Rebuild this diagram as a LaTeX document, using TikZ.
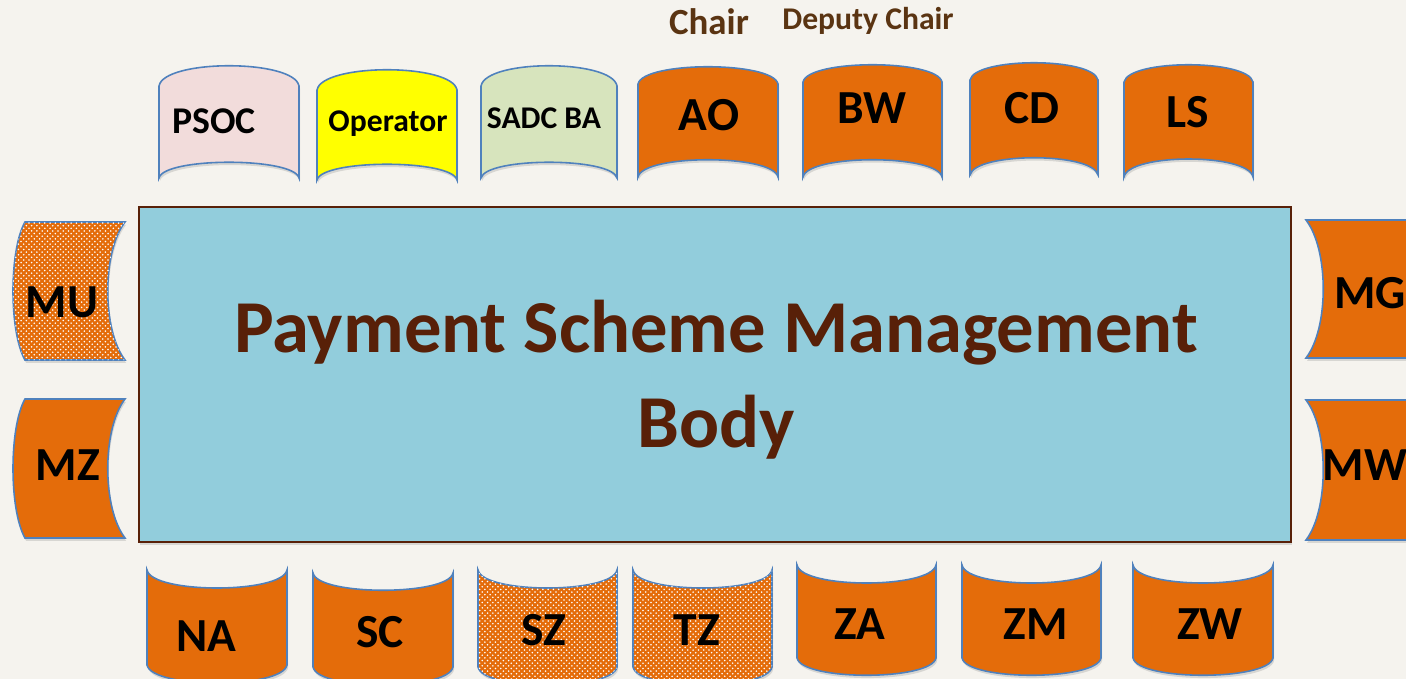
\documentclass[tikz,border=0pt]{standalone}
\usepackage{fontspec}
\setmainfont{Carlito}
\usetikzlibrary{patterns,shadows}
\definecolor{bgcol}{HTML}{F5F3EE}
\definecolor{seatline}{HTML}{4F81BD}
\definecolor{seatorange}{HTML}{E46C0A}
\definecolor{bodyfill}{HTML}{92CDDC}
\definecolor{bodybrown}{HTML}{582008}
\definecolor{rolebrown}{HTML}{5A3412}
\definecolor{psocpink}{HTML}{F2DCDB}
\definecolor{opyellow}{HTML}{FFFF00}
\definecolor{sadcgreen}{HTML}{D7E4BD}

\begin{document}
\begin{tikzpicture}[x=0.02cm,y=-0.02cm]
    \tikzstyle{every node}+=[inner sep=0pt, font=\bfseries]
    \tikzstyle{seat}=[draw=seatline, line width=0.9pt, drop shadow={shadow xshift=0.6pt, shadow yshift=-1.6pt, opacity=0.25}]
    \tikzstyle{member}=[seat, fill=seatorange]
    \tikzstyle{absent}=[seat, fill=seatorange, postaction={pattern=crosshatch dots, pattern color=white}]
    \tikzstyle{big}=[font=\fontsize{27}{31}\selectfont\bfseries]
    \tikzstyle{mid}=[font=\fontsize{20}{24}\selectfont\bfseries]
    \tikzstyle{small}=[font=\fontsize{18}{22}\selectfont\bfseries]
    \useasboundingbox (0,0) rectangle (1406,679);
    \clip (0,0) rectangle (1406,679);
    \fill [bgcol] (0,0) rectangle (1406,679);
    % roles
    \node (chair) [font=\fontsize{21}{25}\selectfont\bfseries, text=rolebrown] at (709,22) {Chair};
    \node (deputy) [small, text=rolebrown] at (868,21) {Deputy Chair};
    % top row
    \draw [seat, fill=psocpink] (159,178) -- (159,86) .. controls (164,59) and (294,59) .. (299,86) -- (299,178) .. controls (294,157) and (164,157) .. cycle;
    \node (psoc) [font=\fontsize{21.5}{25}\selectfont\bfseries] at (214,121) {PSOC};
    \draw [seat, fill=opyellow] (317,180) -- (317,90) .. controls (322,63) and (452,63) .. (457,90) -- (457,180) .. controls (452,159) and (322,159) .. cycle;
    \node (operator) [small] at (388,124) {Operator};
    \draw [seat, fill=sadcgreen] (481,178) -- (481,86) .. controls (486,59) and (612,59) .. (617,86) -- (617,178) .. controls (612,157) and (486,157) .. cycle;
    \node (sadc) [small] at (544,118) {SADC BA};
    \draw [member] (638,177) -- (638,84) .. controls (643,61) and (773,61) .. (778,84) -- (778,177) .. controls (773,154) and (643,154) .. cycle;
    \node (ao) [big] at (709,115) {AO};
    \draw [member] (803,177) -- (803,82) .. controls (808,59) and (937,59) .. (942,82) -- (942,177) .. controls (937,154) and (808,154) .. cycle;
    \node (bw) [big] at (872,108) {BW};
    \draw [member] (970,175) -- (970,80) .. controls (975,57) and (1093,57) .. (1098,80) -- (1098,175) .. controls (1093,152) and (975,152) .. cycle;
    \node (cd) [big] at (1032,108) {CD};
    \draw [member] (1124,177) -- (1124,82) .. controls (1129,59) and (1248,59) .. (1253,82) -- (1253,177) .. controls (1248,153) and (1129,153) .. cycle;
    \node (ls) [big] at (1188,112) {LS};
    % left side
    \draw [absent] (125,222) -- (25,222) .. controls (9,250) and (9,332) .. (25,360) -- (125,360) .. controls (102,330) and (102,252) .. cycle;
    \node (mu) [big] at (62,302) {MU};
    \draw [member] (125,399) -- (25,399) .. controls (9,427) and (9,510) .. (25,538) -- (125,538) .. controls (102,508) and (102,429) .. cycle;
    \node (mz) [big] at (68,465) {MZ};
    % right side
    \draw [member] (1306,220) -- (1416,220) .. controls (1432,248) and (1432,330) .. (1416,358) -- (1306,358) .. controls (1329,328) and (1329,250) .. cycle;
    \node (mg) [big] at (1370,293) {MG};
    \draw [member] (1306,400) -- (1416,400) .. controls (1432,428) and (1432,512) .. (1416,540) -- (1306,540) .. controls (1329,510) and (1329,430) .. cycle;
    \node (mw) [big] at (1365,465) {MW};
    % bottom row
    \draw [member] (147,570) -- (147,665) .. controls (152,689) and (282,689) .. (287,665) -- (287,570) .. controls (282,594) and (152,594) .. cycle;
    \node (na) [big] at (206,636) {NA};
    \draw [member] (313,573) -- (313,667) .. controls (318,691) and (448,691) .. (453,667) -- (453,573) .. controls (448,596) and (318,596) .. cycle;
    \node (sc) [big] at (380,632) {SC};
    \draw [absent] (478,570) -- (478,667) .. controls (483,691) and (612,691) .. (617,667) -- (617,570) .. controls (612,594) and (483,594) .. cycle;
    \node (sz) [big] at (544,630) {SZ};
    \draw [absent] (633,570) -- (633,667) .. controls (638,691) and (767,691) .. (772,667) -- (772,570) .. controls (767,594) and (638,594) .. cycle;
    \node (tz) [big] at (697,630) {TZ};
    \draw [member] (797,565) -- (797,658) .. controls (802,681) and (931,681) .. (936,658) -- (936,565) .. controls (931,589) and (802,589) .. cycle;
    \node (za) [big] at (860,624) {ZA};
    \draw [member] (962,565) -- (962,658) .. controls (967,681) and (1096,681) .. (1101,658) -- (1101,565) .. controls (1096,589) and (967,589) .. cycle;
    \node (zm) [big] at (1036,624) {ZM};
    \draw [member] (1133,565) -- (1133,658) .. controls (1138,681) and (1268,681) .. (1273,658) -- (1273,565) .. controls (1268,589) and (1138,589) .. cycle;
    \node (zw) [big] at (1210,624) {ZW};
    % the body
    \node (psmb) [draw=bodybrown, line width=1pt, fill=bodyfill, minimum width=23.04cm, minimum height=6.7cm, drop shadow={shadow xshift=0.6pt, shadow yshift=-1.6pt, opacity=0.25}] at (715,374.5) {};
    \node (title) [align=center, text=bodybrown, font=\fontsize{42.5}{54}\selectfont\bfseries] at (716,380) {Payment Scheme Management\\Body};
\end{tikzpicture}
\end{document}
